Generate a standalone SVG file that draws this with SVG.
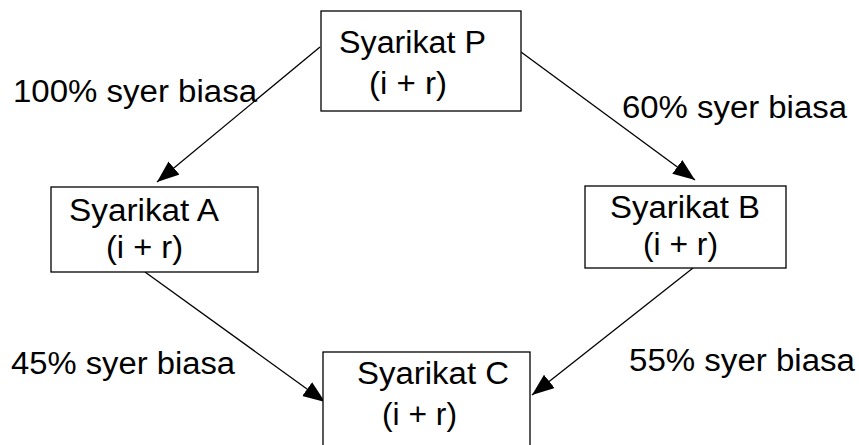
<svg xmlns="http://www.w3.org/2000/svg" width="859" height="445" viewBox="0 0 859 445">
  <style>
    .box { fill: #fff; stroke: #000; stroke-width: 1.3; }
    .lbl { font-family: "Liberation Sans", Arial, sans-serif; font-size: 31px; fill: #000; }
    .edge { stroke: #000; stroke-width: 1.3; fill: none; marker-end: url(#head); }
  </style>
  <defs>
    <marker id="head" markerUnits="userSpaceOnUse" markerWidth="24" markerHeight="18" refX="22" refY="8.5" orient="auto">
      <path d="M0,0 L22,8.5 L0,17 Z" fill="#000"/>
    </marker>
  </defs>

  <g id="connectors">
    <line class="edge" x1="320" y1="47" x2="157" y2="182"/>
    <line class="edge" x1="521" y1="52" x2="695" y2="180"/>
    <line class="edge" x1="145" y1="272" x2="325" y2="402"/>
    <line class="edge" x1="693" y1="268" x2="532" y2="395"/>
  </g>

  <g id="edge-labels">
    <text class="lbl" x="13" y="102" textLength="244" lengthAdjust="spacingAndGlyphs">100% syer biasa</text>
    <text class="lbl" x="622" y="118" textLength="225" lengthAdjust="spacingAndGlyphs">60% syer biasa</text>
    <text class="lbl" x="11" y="374" textLength="224" lengthAdjust="spacingAndGlyphs">45% syer biasa</text>
    <text class="lbl" x="629" y="371" textLength="226" lengthAdjust="spacingAndGlyphs">55% syer biasa</text>
  </g>

  <g id="node-P">
    <rect class="box" x="321" y="11" width="200" height="100"/>
    <text class="lbl" x="339" y="53" textLength="147" lengthAdjust="spacingAndGlyphs">Syarikat P</text>
    <text class="lbl" x="369" y="94" textLength="78" lengthAdjust="spacingAndGlyphs">(i + r)</text>
  </g>

  <g id="node-A">
    <rect class="box" x="51" y="187" width="207" height="85"/>
    <text class="lbl" x="69" y="221" textLength="150" lengthAdjust="spacingAndGlyphs">Syarikat A</text>
    <text class="lbl" x="106" y="258" textLength="77" lengthAdjust="spacingAndGlyphs">(i + r)</text>
  </g>

  <g id="node-B">
    <rect class="box" x="585" y="186" width="201" height="82"/>
    <text class="lbl" x="610" y="218" textLength="150" lengthAdjust="spacingAndGlyphs">Syarikat B</text>
    <text class="lbl" x="643" y="255" textLength="75" lengthAdjust="spacingAndGlyphs">(i + r)</text>
  </g>

  <g id="node-C">
    <rect class="box" x="323" y="352" width="207" height="120"/>
    <text class="lbl" x="357" y="384" textLength="152" lengthAdjust="spacingAndGlyphs">Syarikat C</text>
    <text class="lbl" x="382" y="425" textLength="75" lengthAdjust="spacingAndGlyphs">(i + r)</text>
  </g>
</svg>
